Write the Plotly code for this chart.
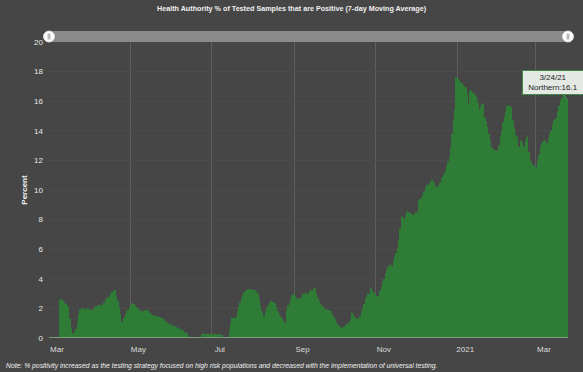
import pandas as pd
import plotly.graph_objects as go

# ---- data ----
start_date = "2020-03-09"
series_name = "Northern"
positivity = [
    2.6, 2.6, 2.5, 2.4, 2.3, 2.2, 2.1, 1.3, 0.6, 0.3,
    0.3, 0.4, 0.6, 1.1, 1.6, 1.9, 2.0, 2.0, 2.0, 1.95,
    2.0, 2.0, 1.95, 1.9, 1.9, 1.95, 2.1, 2.15, 2.2, 2.25,
    2.2, 2.25, 2.25, 2.4, 2.6, 2.65, 2.75, 2.8, 2.95, 3.1,
    3.2, 3.25, 2.8, 2.5, 2.1, 1.6, 1.1, 0.8, 1.35, 1.6,
    1.8, 1.9, 2.1, 2.2, 2.35, 2.3, 2.2, 2.1, 2.0, 1.9,
    1.85, 1.8, 1.8, 1.85, 1.9, 1.9, 1.85, 1.7, 1.6, 1.55,
    1.5, 1.5, 1.45, 1.45, 1.4, 1.4, 1.35, 1.3, 1.2, 1.1,
    1.05, 1.0, 0.95, 0.9, 0.85, 0.8, 0.8, 0.75, 0.7, 0.65,
    0.6, 0.55, 0.5, 0.4, 0.35, 0.3, 0.15, 0.05, 0, 0,
    0, 0, 0, 0, 0, 0, 0.27, 0.28, 0.27, 0.26,
    0.27, 0.28, 0.27, 0.26, 0.25, 0.27, 0.28, 0.26, 0.25, 0.24,
    0.25, 0.2, 0, 0, 0, 0, 0, 0.55, 1.0, 1.35,
    1.35, 1.35, 1.4, 1.8, 2.1, 2.4, 2.7, 2.9, 3.1, 3.2,
    3.25, 3.3, 3.3, 3.3, 3.25, 3.25, 3.25, 3.15, 3.0, 2.6,
    2.2, 1.8, 1.25, 1.5, 1.8, 2.0, 2.2, 2.4, 2.5, 2.45,
    2.4, 2.35, 2.1, 1.8, 1.6, 1.5, 1.35, 1.2, 1.05, 1.0,
    1.9, 2.2, 2.35, 2.6, 2.9, 3.0, 2.8, 2.7, 2.6, 2.7,
    2.7, 2.75, 2.95, 3.0, 3.05, 2.9, 3.0, 3.15, 3.25, 3.2,
    3.35, 3.35, 3.0, 2.7, 2.5, 2.3, 2.2, 2.1, 2.0, 1.95,
    1.9, 1.9, 1.85, 1.8, 1.6, 1.4, 1.25, 1.05, 0.9, 0.8,
    0.75, 0.7, 0.67, 0.75, 0.9, 0.95, 1.0, 1.1, 1.25, 1.7,
    1.5, 1.35, 1.3, 1.3, 1.3, 1.5, 1.8, 2.0, 2.3, 2.7,
    2.8, 3.0, 3.0, 3.35, 3.2, 3.05, 3.0, 2.85, 2.8, 2.6,
    3.2, 3.45, 3.8, 4.0, 4.4, 4.6, 4.8, 4.95, 4.9, 4.85,
    5.2, 5.5, 5.75, 6.1, 6.6, 7.4, 8.2, 8.1, 8.0, 8.3,
    8.55, 8.5, 8.45, 8.4, 8.35, 8.3, 8.4, 8.5, 8.55, 9.3,
    9.4, 9.5, 9.65, 9.9, 10.2, 10.3, 10.35, 10.45, 10.55, 10.7,
    10.5, 10.3, 10.2, 10.25, 10.3, 10.5, 10.8, 10.9, 11.1, 11.35,
    11.6, 11.9, 12.25, 12.9, 13.8, 14.8, 15.4, 17.6, 17.5, 17.4,
    17.3, 17.2, 17.1, 17.0, 16.95, 16.5, 15.8, 16.7, 16.7, 16.6,
    16.5, 16.4, 16.3, 15.9, 15.4, 15.6, 15.8, 15.85, 14.9, 14.6,
    14.25, 13.8, 13.3, 12.9, 12.8, 12.7, 12.7, 12.65, 12.6, 13.0,
    13.6, 14.0, 14.6, 14.9, 15.3, 15.7, 15.7, 15.65, 15.6, 14.7,
    14.2, 13.8, 13.6, 12.45, 12.9, 13.35, 13.2, 13.0, 12.9, 13.3,
    13.6, 12.6, 12.0, 11.9, 11.7, 11.6, 11.55, 11.55, 12.0, 12.4,
    12.9, 13.1, 13.3, 13.35, 13.2, 13.15, 13.5, 13.8, 14.0, 14.4,
    14.7, 14.8, 14.9, 15.3, 15.7, 16.05, 16.2, 16.3, 16.2, 16.05, 16.1,
]
x_tick_dates = ["2020-03-01", "2020-05-01", "2020-07-01", "2020-09-01",
                "2020-11-01", "2021-01-01", "2021-03-01"]
x_tick_labels = ["Mar", "May", "Jul", "Sep", "Nov", "2021", "Mar"]
y_ticks = [0, 2, 4, 6, 8, 10, 12, 14, 16, 18, 20]

title_text = "Health Authority % of Tested Samples that are Positive (7-day Moving Average)"
note_text = ("Note: % positivity increased as the testing strategy focused on high risk "
             "populations and decreased with the implementation of universal testing.")

# ---- build ----
days = pd.date_range(start_date, periods=len(positivity), freq="D")
bar_x = days + pd.Timedelta(hours=12)

BG = "#464646"
GREEN = "#2f7c37"
FONT = "Liberation Sans"

fig = go.Figure(go.Bar(
    x=bar_x, y=positivity, marker=dict(color=GREEN, line=dict(width=0)),
    name=series_name,
    hovertemplate="%{x|%-m/%-d/%y}<br>" + series_name + ":%{y}<extra></extra>",
))

last_day = days[-1]
tip = f"{last_day.month}/{last_day.day}/{last_day.strftime('%y')}<br>{series_name}:{positivity[-1]}"

fig.update_layout(
    width=583, height=372,
    paper_bgcolor=BG, plot_bgcolor=BG,
    margin=dict(l=49, r=15, t=42, b=34),
    bargap=0.08,
    showlegend=False,
    font=dict(family=FONT, color="#e8e8e8", size=8),
    title=dict(text="<b>" + title_text + "</b>", x=0.5, xref="container",
               y=1 - 8 / 372, yref="container", yanchor="middle", xanchor="center",
               font=dict(size=7.2, color="#f0f0f0", family=FONT)),
    xaxis=dict(
        type="date",
        range=["2020-03-01", "2021-03-25"],
        tickvals=x_tick_dates, ticktext=x_tick_labels,
        ticklabelshift=8, ticklabelstandoff=5,
        showgrid=True, gridcolor="#5e5e5e", gridwidth=1,
        zeroline=False, showline=False,
        ticks="", tickfont=dict(size=8, color="#dcdcdc"),
        fixedrange=True,
    ),
    yaxis=dict(
        range=[0, 20], tickvals=y_ticks,
        showgrid=True, gridcolor="#4c4c4c", gridwidth=1,
        zeroline=False, showline=False, ticks="", ticklabelstandoff=5,
        tickfont=dict(size=8, color="#e8e8e8"),
        title=dict(text="<b>Percent</b>", font=dict(size=8, color="#f0f0f0"), standoff=5),
        fixedrange=True,
    ),
    shapes=[
        dict(type="line", xref="paper", yref="y", x0=0, x1=1, y0=0, y1=0,
             line=dict(color="#7f9a7f", width=2), layer="above"),
        dict(type="rect", xref="paper", yref="paper", yanchor=1, ysizemode="pixel",
             x0=0, x1=1, y0=0, y1=11, fillcolor="#8a8a8a", line=dict(width=0)),
        dict(type="circle", xref="paper", yref="paper", xanchor=0, yanchor=1,
             xsizemode="pixel", ysizemode="pixel", x0=-5.5, x1=5.5, y0=0, y1=11,
             fillcolor="#ffffff", line=dict(color="#dddddd", width=1)),
        dict(type="rect", xref="paper", yref="paper", xanchor=0, yanchor=1,
             xsizemode="pixel", ysizemode="pixel", x0=-1.5, x1=1.5, y0=2.5, y1=8.5,
             fillcolor="#bbbbbb", line=dict(width=0)),
        dict(type="circle", xref="paper", yref="paper", xanchor=1, yanchor=1,
             xsizemode="pixel", ysizemode="pixel", x0=-5.5, x1=5.5, y0=0, y1=11,
             fillcolor="#ffffff", line=dict(color="#dddddd", width=1)),
        dict(type="rect", xref="paper", yref="paper", xanchor=1, yanchor=1,
             xsizemode="pixel", ysizemode="pixel", x0=-1.5, x1=1.5, y0=2.5, y1=8.5,
             fillcolor="#bbbbbb", line=dict(width=0)),
    ],
    annotations=[
        dict(x=bar_x[-1], y=positivity[-1], xref="x", yref="y", text=tip,
             showarrow=True, arrowhead=0, arrowwidth=1.5, arrowcolor="#3f8a46",
             ax=-14, ay=-17, bgcolor="#e4e9e4", bordercolor="#3f8a46", borderwidth=1,
             borderpad=2, width=56, height=19,
             font=dict(size=8, color="#222222", family=FONT), align="center"),
        dict(x=(4 - 49) / 519, y=(338 - 366) / 296, xref="paper", yref="paper",
             xanchor="left", yanchor="middle", showarrow=False,
             text="<i>" + note_text + "</i>",
             font=dict(size=6.8, color="#f0f0f0", family=FONT)),
    ],
)

fig.write_html("out.html", config={"displayModeBar": False})

# remove the browser's default page margin so the figure sits at the window origin
with open("out.html", "r", encoding="utf-8") as fh:
    html = fh.read()
html = html.replace("<head>", "<head><style>html,body{margin:0;padding:0;overflow:hidden;background:#464646}</style>", 1)
with open("out.html", "w", encoding="utf-8") as fh:
    fh.write(html)
